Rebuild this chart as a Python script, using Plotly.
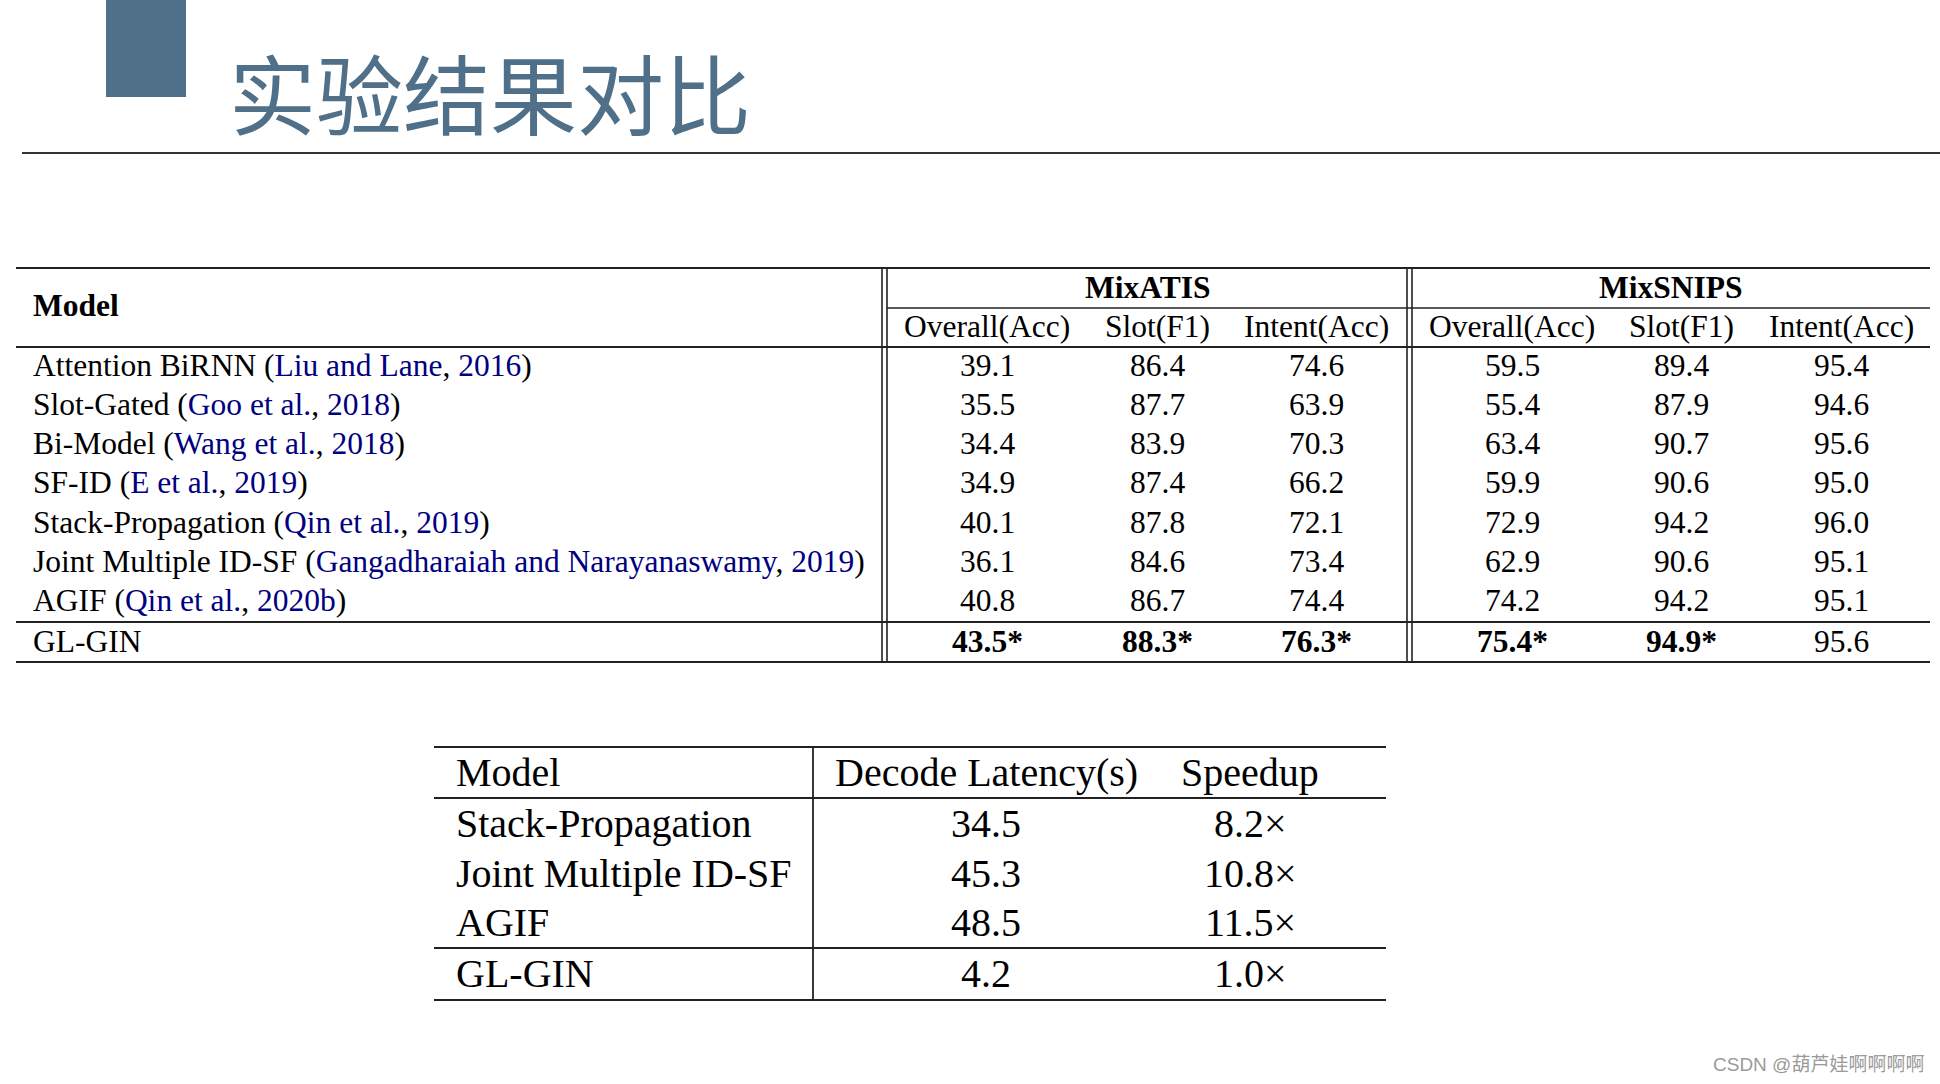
import plotly.graph_objects as go

# ---------------- data ----------------
title_text = "实验结果对比"
watermark = "CSDN @葫芦娃啊啊啊啊"

models = ["Attention BiRNN", "Slot-Gated", "Bi-Model", "SF-ID", "Stack-Propagation",
          "Joint Multiple ID-SF", "AGIF", "GL-GIN"]
cite_authors = ["Liu and Lane", "Goo et al.", "Wang et al.", "E et al.", "Qin et al.",
                "Gangadharaiah and Narayanaswamy", "Qin et al.", None]
cite_years = ["2016", "2018", "2018", "2019", "2019", "2019", "2020b", None]

datasets = ["MixATIS", "MixSNIPS"]
metrics = ["Overall(Acc)", "Slot(F1)", "Intent(Acc)"]
atis_overall = [39.1, 35.5, 34.4, 34.9, 40.1, 36.1, 40.8, 43.5]
atis_slot = [86.4, 87.7, 83.9, 87.4, 87.8, 84.6, 86.7, 88.3]
atis_intent = [74.6, 63.9, 70.3, 66.2, 72.1, 73.4, 74.4, 76.3]
snips_overall = [59.5, 55.4, 63.4, 59.9, 72.9, 62.9, 74.2, 75.4]
snips_slot = [89.4, 87.9, 90.7, 90.6, 94.2, 90.6, 94.2, 94.9]
snips_intent = [95.4, 94.6, 95.6, 95.0, 96.0, 95.1, 95.1, 95.6]
# significance / bold flags for the GL-GIN row (per column)
glgin_bold = [True, True, True, True, True, False]

speed_header = ["Model", "Decode Latency(s)", "Speedup"]
speed_models = ["Stack-Propagation", "Joint Multiple ID-SF", "AGIF", "GL-GIN"]
speed_latency = [34.5, 45.3, 48.5, 4.2]
speed_speedup = [8.2, 10.8, 11.5, 1.0]

# ---------------- layout / style constants ----------------
W, H = 1940, 1084
ACCENT = "#4f7088"
NAVY = "#000080"
SERIF = "Liberation Serif, Times New Roman, serif"
LINE = "#222222"

fig = go.Figure()
fig.add_trace(go.Scatter(x=[0, W], y=[0, H], mode="markers",
                         marker=dict(opacity=0), hoverinfo="skip", showlegend=False))

shapes = []
annotations = []


def hline(y, x0, x1, w=2.0, color=LINE):
    shapes.append(dict(type="line", xref="x", yref="y", x0=x0, x1=x1, y0=y, y1=y,
                       line=dict(color=color, width=w)))


def vline(x, y0, y1, w=1.6, color=LINE):
    shapes.append(dict(type="line", xref="x", yref="y", x0=x, x1=x, y0=y0, y1=y1,
                       line=dict(color=color, width=w)))


def text(x, y, s, size, anchor="center", color="black", family=SERIF):
    annotations.append(dict(x=x, y=y, xref="x", yref="y", text=s, showarrow=False,
                            xanchor=anchor, yanchor="middle",
                            font=dict(size=size, color=color, family=family)))


# ---- slide header ----
shapes.append(dict(type="rect", xref="x", yref="y", x0=106, x1=186, y0=0, y1=97,
                   fillcolor=ACCENT, line=dict(width=0)))
text(227, 91, title_text, 87, anchor="left", color=ACCENT, family="Noto Sans CJK SC")
hline(153, 22, W, w=2.0, color="#333333")

# ---- table 1 ----
T1_LEFT, T1_RIGHT = 16, 1930
T1_MODEL_X = 31
sep1 = (882, 887)
sep2 = (1407, 1412)
y_top, y_cmid, y_head, y_mid2, y_bot = 268, 308, 347, 622, 662
row_y = [365, 404, 443, 482, 522, 561, 600, 641]
col_x = [987, 1157, 1316, 1512, 1681, 1841]
group_x = [1147, 1671]
T1_FS = 31.5

hline(y_top, T1_LEFT, T1_RIGHT)
hline(y_cmid, sep1[1], T1_RIGHT, w=1.5)
hline(y_head, T1_LEFT, T1_RIGHT)
hline(y_mid2, T1_LEFT, T1_RIGHT)
hline(y_bot, T1_LEFT, T1_RIGHT)
for sx in sep1 + sep2:
    vline(sx, y_top, y_bot)

text(T1_MODEL_X, 305, "<b>Model</b>", T1_FS, anchor="left")
for gx, ds in zip(group_x, datasets):
    text(gx, 287, "<b>%s</b>" % ds, T1_FS)
for i, cx in enumerate(col_x):
    text(cx, 326, metrics[i % 3], T1_FS)

for r, m in enumerate(models):
    if cite_authors[r]:
        s = ("%s (<span style='color:%s'>%s</span>, <span style='color:%s'>%s</span>)"
             % (m, NAVY, cite_authors[r], NAVY, cite_years[r]))
    else:
        s = m
    text(T1_MODEL_X, row_y[r], s, T1_FS, anchor="left")

columns = [atis_overall, atis_slot, atis_intent, snips_overall, snips_slot, snips_intent]
last = len(models) - 1
for c, vals in enumerate(columns):
    for r, v in enumerate(vals):
        s = "%.1f" % v
        if r == last and glgin_bold[c]:
            s = "<b>%s*</b>" % s
        text(col_x[c], row_y[r], s, T1_FS)

# ---- table 2 ----
T2_LEFT, T2_RIGHT = 434, 1386
T2_MODEL_X = 454
T2_SEP = 813
t2_top, t2_head, t2_mid, t2_bot = 747, 798, 948, 1000
t2_header_y = 772
t2_row_y = [823, 873, 922, 973]
t2_col_x = [986, 1250]
T2_FS = 40

hline(t2_top, T2_LEFT, T2_RIGHT)
hline(t2_head, T2_LEFT, T2_RIGHT)
hline(t2_mid, T2_LEFT, T2_RIGHT)
hline(t2_bot, T2_LEFT, T2_RIGHT)
vline(T2_SEP, t2_top, t2_bot, w=1.8)

text(T2_MODEL_X, t2_header_y, speed_header[0], T2_FS, anchor="left")
text(t2_col_x[0], t2_header_y, speed_header[1], T2_FS)
text(t2_col_x[1], t2_header_y, speed_header[2], T2_FS)
for r, m in enumerate(speed_models):
    text(T2_MODEL_X, t2_row_y[r], m, T2_FS, anchor="left")
    text(t2_col_x[0], t2_row_y[r], "%.1f" % speed_latency[r], T2_FS)
    text(t2_col_x[1], t2_row_y[r], "%.1f×" % speed_speedup[r], T2_FS)

# ---- watermark ----
text(1926, 1064, watermark, 19, anchor="right", color="#9a9a9a",
     family="Liberation Sans, Noto Sans CJK SC, sans-serif")

fig.update_layout(
    width=W, height=H,
    margin=dict(l=0, r=0, t=0, b=0),
    paper_bgcolor="white", plot_bgcolor="white",
    xaxis=dict(range=[0, W], visible=False, fixedrange=True),
    yaxis=dict(range=[H, 0], visible=False, fixedrange=True),
    shapes=shapes, annotations=annotations,
    showlegend=False,
)
fig.write_html("out.html", config={"displayModeBar": False},
               post_script="document.body.style.margin='0';document.body.style.overflow='hidden';")
